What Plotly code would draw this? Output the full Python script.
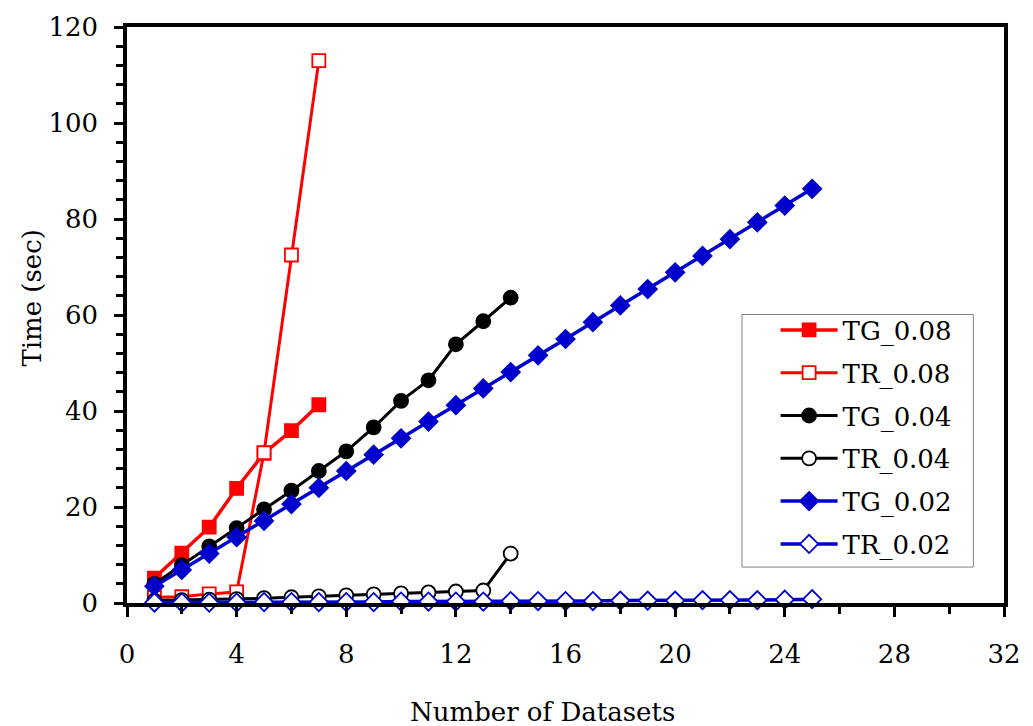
import plotly.graph_objects as go

# ---- data ----
datasets_08 = [1, 2, 3, 4, 5, 6, 7]
tg_008 = [5.2, 10.4, 15.8, 23.9, 31.2, 35.9, 41.3]
tr_008 = [1.2, 1.3, 1.9, 2.3, 31.3, 72.5, 113.0]

datasets_04 = [1, 2, 3, 4, 5, 6, 7, 8, 9, 10, 11, 12, 13, 14]
tg_004 = [4.0, 7.9, 11.8, 15.6, 19.5, 23.4, 27.5, 31.6, 36.6, 42.1, 46.4, 53.9, 58.7, 63.6]
tr_004 = [0.5, 0.6, 0.7, 0.8, 1.0, 1.2, 1.4, 1.6, 1.8, 2.0, 2.2, 2.4, 2.6, 10.3]

datasets_02 = [1, 2, 3, 4, 5, 6, 7, 8, 9, 10, 11, 12, 13, 14, 15, 16, 17, 18, 19, 20,
               21, 22, 23, 24, 25]
tg_002 = [3.5, 6.9, 10.3, 13.7, 17.1, 20.6, 24.0, 27.5, 30.9, 34.3, 37.8, 41.2, 44.7,
          48.1, 51.6, 55.0, 58.5, 62.0, 65.4, 68.9, 72.3, 75.8, 79.3, 82.8, 86.3]
tr_002 = [0.1, 0.1, 0.1, 0.1, 0.2, 0.2, 0.2, 0.2, 0.2, 0.3, 0.3, 0.3, 0.3, 0.4, 0.4,
          0.4, 0.4, 0.5, 0.5, 0.5, 0.6, 0.6, 0.6, 0.7, 0.8]

x_ticks = [0, 4, 8, 12, 16, 20, 24, 28, 32]
y_ticks = [0, 20, 40, 60, 80, 100, 120]

RED = "#FF0000"
BLACK = "#000000"
BLUE = "#0000CC"
FONT = "DejaVu Serif"

series = [
    ("TG_0.08", datasets_08, tg_008, RED, "square", RED, 13, 3.5),
    ("TR_0.08", datasets_08, tr_008, RED, "square", "white", 13, 3),
    ("TG_0.04", datasets_04, tg_004, BLACK, "circle", BLACK, 14, 3),
    ("TR_0.04", datasets_04, tr_004, BLACK, "circle", "white", 14, 3),
    ("TG_0.02", datasets_02, tg_002, BLUE, "diamond", BLUE, 14, 3.5),
    ("TR_0.02", datasets_02, tr_002, BLUE, "diamond", "white", 14, 3.5),
]

fig = go.Figure()
for name, xs, ys, col, sym, fill, size, lw in series:
    fig.add_trace(go.Scatter(
        x=xs, y=ys, name=name, mode="lines+markers",
        line=dict(color=col, width=lw),
        marker=dict(symbol=sym, size=size, color=fill,
                    line=dict(color=col, width=1.8)),
        cliponaxis=False, legendgroup=name,
    ))

PW = 1033 - 127 - 19
PH = 726 - 26 - 123


def px_x(p):
    return (p - 127) / PW


def px_y(p):
    return (603 - p) / PH


fig.update_layout(
    width=1033, height=726,
    margin=dict(l=127, r=19, t=26, b=123),
    paper_bgcolor="white", plot_bgcolor="white",
    font=dict(family=FONT, size=26, color="black"),
    showlegend=True,
    legend=dict(
        x=px_x(783), y=px_y(306), xanchor="left", yanchor="top",
        bgcolor="rgba(0,0,0,0)", borderwidth=0,
        font=dict(family=FONT, size=26), tracegroupgap=6,
        itemwidth=57,
    ),
    shapes=[
        dict(type="rect", xref="paper", yref="paper",
             x0=px_x(749), x1=px_x(983), y0=px_y(567), y1=px_y(314),
             line=dict(color="#808080", width=1), fillcolor="white", layer="above"),
    ],
    xaxis=dict(
        range=[0, 32], tickvals=x_ticks, ticktext=[str(v) for v in x_ticks],
        ticks="outside", ticklen=10, tickwidth=2.5, tickcolor="black",
        showline=True, linecolor="black", linewidth=3.5, mirror=True,
        showgrid=False, zeroline=False, ticklabelstandoff=15,
        minor=dict(dtick=2, tick0=0, ticks="outside", ticklen=7, tickwidth=2.5,
                   tickcolor="black", showgrid=False),
    ),
    yaxis=dict(
        range=[0, 120], tickvals=y_ticks, ticktext=[str(v) for v in y_ticks],
        ticks="outside", ticklen=9, tickwidth=2.5, tickcolor="black",
        showline=True, linecolor="black", linewidth=3.5, mirror=True,
        showgrid=False, zeroline=False, ticklabelstandoff=11,
        minor=dict(dtick=4, tick0=0, ticks="outside", ticklen=7, tickwidth=2.5,
                   tickcolor="black", showgrid=False),
    ),
    annotations=[
        dict(text="Number of Datasets", xref="paper", yref="paper",
             x=px_x(547), y=px_y(712), xanchor="center",
             yanchor="middle", showarrow=False, font=dict(family=FONT, size=26)),
        dict(text="Time (sec)", xref="paper", yref="paper",
             x=px_x(30), y=px_y(297), xanchor="center",
             yanchor="middle", textangle=-90, showarrow=False,
             font=dict(family=FONT, size=26)),
    ],
)

fig.write_html("out.html")
